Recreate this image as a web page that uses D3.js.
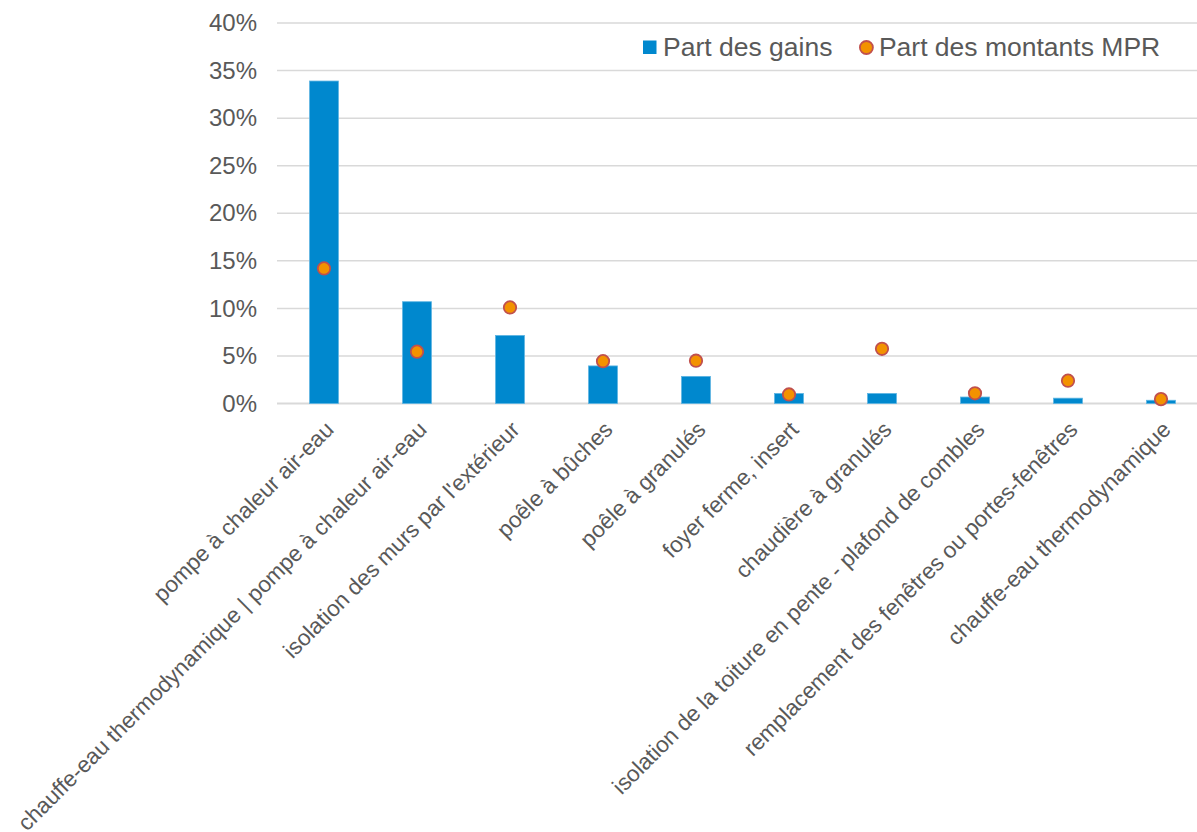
<!DOCTYPE html>
<html>
<head>
<meta charset="utf-8">
<script src="https://cdn.jsdelivr.net/npm/d3@7/dist/d3.min.js"></script>
<style>
  html, body { margin: 0; padding: 0; background: #fff; }
  svg { display: block; font-family: "Liberation Sans", Arial, sans-serif; }
</style>
</head>
<body>
<svg id="chart" width="1197" height="832"></svg>
<script>
// Work categories
const categories = [
  "pompe à chaleur air-eau",
  "chauffe-eau thermodynamique | pompe à chaleur air-eau",
  "isolation des murs par l'extérieur",
  "poêle à bûches",
  "poêle à granulés",
  "foyer ferme, insert",
  "chaudière à granulés",
  "isolation de la toiture en pente - plafond de combles",
  "remplacement des fenêtres ou portes-fenêtres",
  "chauffe-eau thermodynamique"
];
// Share of gains (%)
const partGains = [33.9, 10.7, 7.15, 3.95, 2.85, 1.05, 1.05, 0.68, 0.56, 0.34];
// Share of MPR amounts (%)
const partMPR = [14.2, 5.45, 10.1, 4.45, 4.5, 0.95, 5.75, 1.07, 2.4, 0.46];
// Y axis ticks (%)
const yTicks = [0, 5, 10, 15, 20, 25, 30, 35, 40];
const seriesNames = ["Part des gains", "Part des montants MPR"];

const textColor = "#595959";
const barColor = "#0088CE";
const dotFill = "#F39200";
const dotStroke = "#C0504D";
const gridColor = "#D9D9D9";

const svg = d3.select("#chart");

const x = d3.scaleBand()
  .domain(categories)
  .range([277.5, 1207.5])
  .paddingInner(0.69)
  .paddingOuter(0.345);

const y = d3.scaleLinear().domain([0, 40]).range([403.5, 23]);

// Horizontal gridlines
svg.append("g")
  .selectAll("line")
  .data(yTicks)
  .join("line")
  .attr("x1", 277)
  .attr("x2", 1207)
  .attr("y1", d => y(d))
  .attr("y2", d => y(d))
  .attr("stroke", gridColor)
  .attr("stroke-width", d => d === 0 ? 2 : 1.5);

// Y axis labels
const yAxis = d3.axisLeft(y)
  .tickValues(yTicks)
  .tickFormat(d => d + "%")
  .tickSize(0)
  .tickPadding(0);
const gy = svg.append("g").attr("transform", "translate(257,0)").call(yAxis);
gy.select(".domain").remove();
gy.selectAll("text")
  .attr("fill", textColor)
  .attr("font-size", 24)
  .attr("font-family", "Liberation Sans, Arial, sans-serif");

// Bars
svg.append("g")
  .selectAll("rect")
  .data(categories)
  .join("rect")
  .attr("x", d => x(d))
  .attr("width", x.bandwidth())
  .attr("y", (d, i) => y(partGains[i]))
  .attr("height", (d, i) => y(0) - y(partGains[i]))
  .attr("fill", barColor)
  .attr("stroke", "#5DB4E2")
  .attr("stroke-width", 0.8);

// Markers
svg.append("g")
  .selectAll("circle")
  .data(categories)
  .join("circle")
  .attr("cx", d => x(d) + x.bandwidth() / 2)
  .attr("cy", (d, i) => y(partMPR[i]))
  .attr("r", 6.2)
  .attr("fill", dotFill)
  .attr("stroke", dotStroke)
  .attr("stroke-width", 1.8);

// X axis labels, rotated
svg.append("g")
  .selectAll("text")
  .data(categories)
  .join("text")
  .attr("transform", d => `translate(${x(d) + x.bandwidth() / 2 + 11},431) rotate(-45)`)
  .attr("text-anchor", "end")
  .attr("fill", textColor)
  .attr("font-size", 22.5)
  .text(d => d);

// Legend
const legend = svg.append("g").attr("font-size", 26.5).attr("fill", textColor);
legend.append("rect")
  .attr("x", 643).attr("y", 40.5).attr("width", 13.5).attr("height", 13.5)
  .attr("fill", barColor);
const t1 = legend.append("text").attr("x", 663).attr("y", 55.5).text(seriesNames[0]);
const w1 = t1.node().getComputedTextLength();
const cx2 = 663 + w1 + 34;
legend.append("circle")
  .attr("cx", cx2).attr("cy", 47.5).attr("r", 6.5)
  .attr("fill", dotFill).attr("stroke", dotStroke).attr("stroke-width", 1.8);
legend.append("text").attr("x", cx2 + 12.5).attr("y", 55.5).text(seriesNames[1]);
</script>
</body>
</html>
